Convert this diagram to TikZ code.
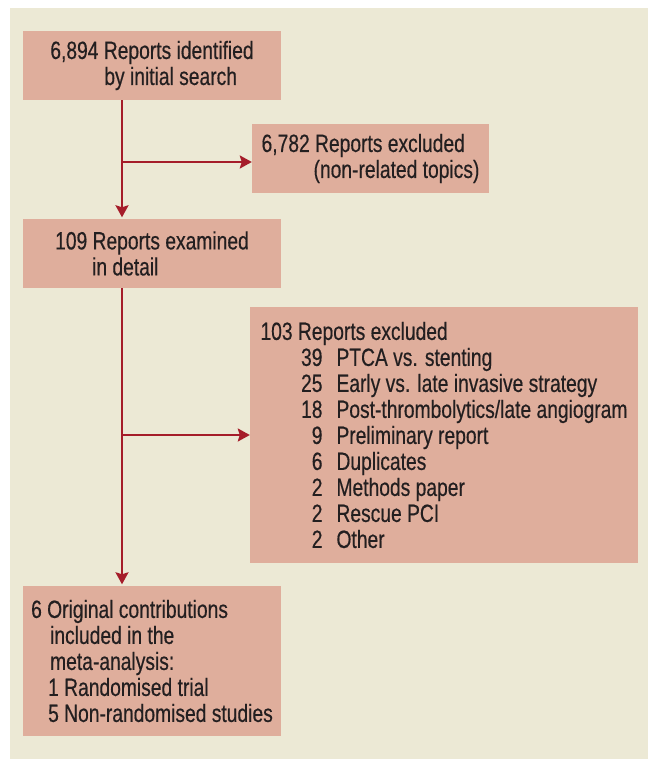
\documentclass[tikz,border=0pt]{standalone}
\usepackage{fontspec}
\setmainfont[FakeStretch=0.77, FakeBold=0.4]{Liberation Sans}
\usetikzlibrary{arrows.meta}
\definecolor{panelfill}{HTML}{ECE9D5}
\definecolor{boxfill}{HTML}{DFAE9C}
\definecolor{flowedge}{HTML}{A51D2A}
\definecolor{inktext}{HTML}{231F20}
\newcommand{\exitem}[2]{\hspace*{41pt}\makebox[21pt][r]{#1}\hspace{14pt}#2}

\begin{document}
\begin{tikzpicture}[x=1pt, y=-1pt,
  box/.style={rectangle, fill=boxfill, inner sep=0pt, align=left, text=inktext,
              font=\fontsize{25}{26}\selectfont},
  flow/.style={draw=flowedge, line width=2.2pt,
               -{Stealth[length=12pt, width=13pt, inset=2pt]}, shorten >=1.5pt},
]
\useasboundingbox (0,0) rectangle (648,759);
\fill[white] (0,0) rectangle (648,759);
\fill[panelfill] (10,8) rectangle (648,759);
\node[box, minimum width=258pt, minimum height=69pt] (search) at (152, 65.5)
  {6,894 Reports identified\\\hspace*{54pt}by initial search};
\node[box, minimum width=237pt, minimum height=69pt] (topics) at (370.5, 158.5)
  {6,782 Reports excluded\\\hspace*{52pt}(non-related topics)};
\node[box, minimum width=258pt, minimum height=69pt] (detail) at (152, 253.5)
  {109 Reports examined\\\hspace*{37pt}in detail};
\node[box, minimum width=388pt, minimum height=256pt] (excluded) at (444, 435)
  {103 Reports excluded\\
   \exitem{39}{PTCA vs. stenting}\\
   \exitem{25}{Early vs. late invasive strategy}\\
   \exitem{18}{Post-thrombolytics/late angiogram}\\
   \exitem{9}{Preliminary report}\\
   \exitem{6}{Duplicates}\\
   \exitem{2}{Methods paper}\\
   \exitem{2}{Rescue PCI}\\
   \exitem{2}{Other}};
\node[box, minimum width=258pt, minimum height=150pt] (included) at (152, 661)
  {6 Original contributions\\
   \hspace*{19pt}included in the\\
   \hspace*{19pt}meta-analysis:\\
   \hspace*{17pt}1 Randomised trial\\
   \hspace*{17pt}5 Non-randomised studies};
% main spine with the two exclusion branches
\coordinate (spine) at (122, 0);
\coordinate (topicsin) at ([yshift=-3.5pt]topics.west);
\draw[flow] (search.south -| spine) -- (detail.north -| spine);
\draw[flow, shorten >=0pt] (spine |- topicsin) -- (topicsin);
\draw[flow] (detail.south -| spine) -- (included.north -| spine);
\draw[flow, shorten >=0pt] (spine |- excluded.west) -- (excluded.west);
\end{tikzpicture}
\end{document}
